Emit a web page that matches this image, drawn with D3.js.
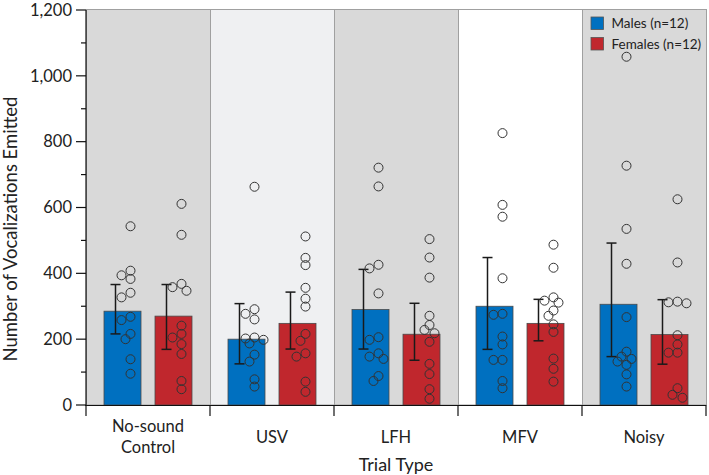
<!DOCTYPE html>
<html><head><meta charset="utf-8">
<script src="https://cdn.jsdelivr.net/npm/d3@7"></script>
<style>body{margin:0;background:#fff}svg{display:block}text{font-family:Lato,"Open Sans",sans-serif;fill:#222}</style>
</head><body>
<svg id="c" width="709" height="475"></svg>
<script>
const categories = ["No-sound Control", "USV", "LFH", "MFV", "Noisy"];
const categoryLines = [["No-sound", "Control"], ["USV"], ["LFH"], ["MFV"], ["Noisy"]];
const seriesNames = ["Males (n=12)", "Females (n=12)"];
const maleMean = [285, 200, 290, 300, 306];
const maleErrHigh = [366, 308, 412, 448, 492];
const maleErrLow = [216, 125, 170, 169, 147];
const femaleMean = [270, 248, 215, 248, 214];
const femaleErrHigh = [366, 343, 309, 321, 320];
const femaleErrLow = [169, 170, 136, 195, 124];
const maleDots = [
  [543, 408, 394, 383, 341, 327, 268, 258, 216, 200, 139, 95],
  [663, 291, 277, 260, 205, 202, 198, 187, 153, 132, 78, 56],
  [721, 664, 426, 415, 339, 206, 198, 157, 147, 140, 88, 73],
  [826, 608, 572, 385, 277, 274, 208, 184, 137, 137, 73, 51],
  [1058, 727, 535, 429, 267, 162, 147, 140, 132, 122, 93, 56]
];
const femaleDots = [
  [611, 517, 368, 358, 347, 241, 216, 205, 185, 155, 73, 48],
  [512, 447, 425, 356, 323, 299, 216, 195, 157, 147, 71, 40],
  [504, 448, 387, 271, 243, 228, 218, 192, 125, 94, 48, 19],
  [487, 417, 327, 317, 311, 287, 271, 245, 222, 141, 110, 71],
  [625, 433, 314, 312, 309, 212, 184, 159, 159, 51, 31, 22]
];
const yTicks = [0, 200, 400, 600, 800, 1000, 1200];
const yMinorTicks = [100, 300, 500, 700, 900, 1100];
const panelFills = ["#d9d9d9", "#eff0f2", "#d9d9d9", "#ffffff", "#d9d9d9"];

const svg = d3.select("#c");
const pL = 86, pR = 706, pT = 10, pB = 405;
const x = d3.scaleBand().domain(categories).range([pL, pR]).padding(0);
const xi = d3.scaleBand().domain(["M", "F"]).range([0, x.bandwidth()]).paddingInner(0.2745).paddingOuter(0.353);
const y = d3.scaleLinear().domain([0, 1200]).range([pB, pT]);

const series = [
  {key: "M", color: "#0070c0", mean: maleMean, hi: maleErrHigh, lo: maleErrLow, dots: maleDots},
  {key: "F", color: "#c0272d", mean: femaleMean, hi: femaleErrHigh, lo: femaleErrLow, dots: femaleDots}
];

// panels
svg.append("g").selectAll("rect").data(categories).join("rect")
  .attr("x", d => x(d) + 0.5).attr("y", pT - 0.5)
  .attr("width", x.bandwidth()).attr("height", pB - pT + 0.5)
  .attr("fill", (d, i) => panelFills[i])
  .attr("stroke", "#a0a0a0").attr("stroke-width", 1);

const groups = svg.append("g").selectAll("g").data(categories).join("g")
  .attr("transform", d => `translate(${x(d)},0)`);

// bars
series.forEach(s => {
  groups.append("rect")
    .attr("x", () => xi(s.key)).attr("width", xi.bandwidth())
    .attr("y", (d, i) => y(s.mean[i])).attr("height", (d, i) => pB - y(s.mean[i]))
    .attr("fill", s.color).attr("stroke", "#4a4a4a").attr("stroke-width", 0.8);
});

// error bars
series.forEach(s => {
  const ex = xi(s.key) + xi.bandwidth() / 2 - 7;
  const eb = groups.append("g").attr("stroke", "#1a1a1a").attr("stroke-width", 1.5);
  eb.append("line").attr("x1", ex).attr("x2", ex)
    .attr("y1", (d, i) => y(s.hi[i])).attr("y2", (d, i) => y(s.lo[i]));
  eb.append("line").attr("x1", ex - 5).attr("x2", ex + 5)
    .attr("y1", (d, i) => y(s.hi[i])).attr("y2", (d, i) => y(s.hi[i]));
  eb.append("line").attr("x1", ex - 5).attr("x2", ex + 5)
    .attr("y1", (d, i) => y(s.lo[i])).attr("y2", (d, i) => y(s.lo[i]));
});

// dots with simple deterministic dodge
series.forEach(s => {
  groups.each(function (d, gi) {
    const cx0 = xi(s.key) + xi.bandwidth() / 2 + 8;
    const placed = [];
    const vals = s.dots[gi].slice().sort((a, b) => b - a);
    vals.forEach(v => {
      const cy = y(v);
      const cands = [0, -5, 5, -9, 9];
      let best = 0, bestD = -1;
      for (const c of cands) {
        let md = Infinity;
        placed.forEach(p => { md = Math.min(md, Math.hypot(p.x - c, p.y - cy)); });
        if (md >= 7) { best = c; bestD = md; break; }
        if (md > bestD) { bestD = md; best = c; }
      }
      placed.push({x: best, y: cy});
      d3.select(this).append("circle")
        .attr("cx", cx0 + best).attr("cy", cy).attr("r", 4.5)
        .attr("fill", "none").attr("stroke", "#333").attr("stroke-width", 1);
    });
  });
});

// y axis
const yAxis = svg.append("g").attr("transform", `translate(${pL},0)`);
yAxis.append("line").attr("x1", 0).attr("x2", 0).attr("y1", pT).attr("y2", pB + 1)
  .attr("stroke", "#111").attr("stroke-width", 1.2);
yAxis.selectAll(".maj").data(yTicks).join("line").attr("class", "maj")
  .attr("x1", -10).attr("x2", 0).attr("y1", d => y(d)).attr("y2", d => y(d))
  .attr("stroke", "#111").attr("stroke-width", 1.2);
yAxis.selectAll(".min").data(yMinorTicks).join("line").attr("class", "min")
  .attr("x1", -5).attr("x2", 0).attr("y1", d => y(d)).attr("y2", d => y(d))
  .attr("stroke", "#111").attr("stroke-width", 1.2);
yAxis.selectAll("text").data(yTicks).join("text")
  .attr("x", -14).attr("y", d => y(d)).attr("dy", "0.35em")
  .attr("text-anchor", "end").attr("font-size", 16.5)
  .text(d => d3.format(",")(d));

svg.append("text").attr("transform", `translate(17,229) rotate(-90)`)
  .attr("text-anchor", "middle").attr("font-size", 18.5)
  .text("Number of Vocalizations Emitted");

// x axis
const xAxis = svg.append("g");
xAxis.append("line").attr("x1", pL - 1).attr("x2", pR).attr("y1", pB + 0.5).attr("y2", pB + 0.5)
  .attr("stroke", "#111").attr("stroke-width", 1.2);
const bounds = categories.map(c => x(c)).concat([x(categories[categories.length - 1]) + x.bandwidth()]);
xAxis.selectAll(".tk").data(bounds).join("line").attr("class", "tk")
  .attr("x1", d => d).attr("x2", d => d).attr("y1", pB).attr("y2", pB + 11)
  .attr("stroke", "#111").attr("stroke-width", 1.2);
categories.forEach((c, i) => {
  const lines = categoryLines[i];
  const cx = x(c) + x.bandwidth() / 2;
  const y0 = lines.length === 1 ? 437 : 426;
  lines.forEach((t, j) => {
    xAxis.append("text").attr("x", cx).attr("y", y0 + j * 21).attr("dy", "0.35em")
      .attr("text-anchor", "middle").attr("font-size", 16.5).text(t);
  });
});
svg.append("text").attr("x", (pL + pR) / 2).attr("y", 465).attr("dy", "0.35em")
  .attr("text-anchor", "middle").attr("font-size", 18).text("Trial Type");

// legend
const lg = svg.append("g").attr("transform", "translate(591,17)");
series.forEach((s, i) => {
  lg.append("rect").attr("x", 0).attr("y", i * 20.5).attr("width", 12.5).attr("height", 12.5)
    .attr("fill", s.color).attr("stroke", "#555").attr("stroke-width", 0.8);
  lg.append("text").attr("x", 20.5).attr("y", i * 20.5 + 6.5).attr("dy", "0.35em")
    .attr("font-size", 13.5).text(seriesNames[i]);
});
</script>
</body></html>
